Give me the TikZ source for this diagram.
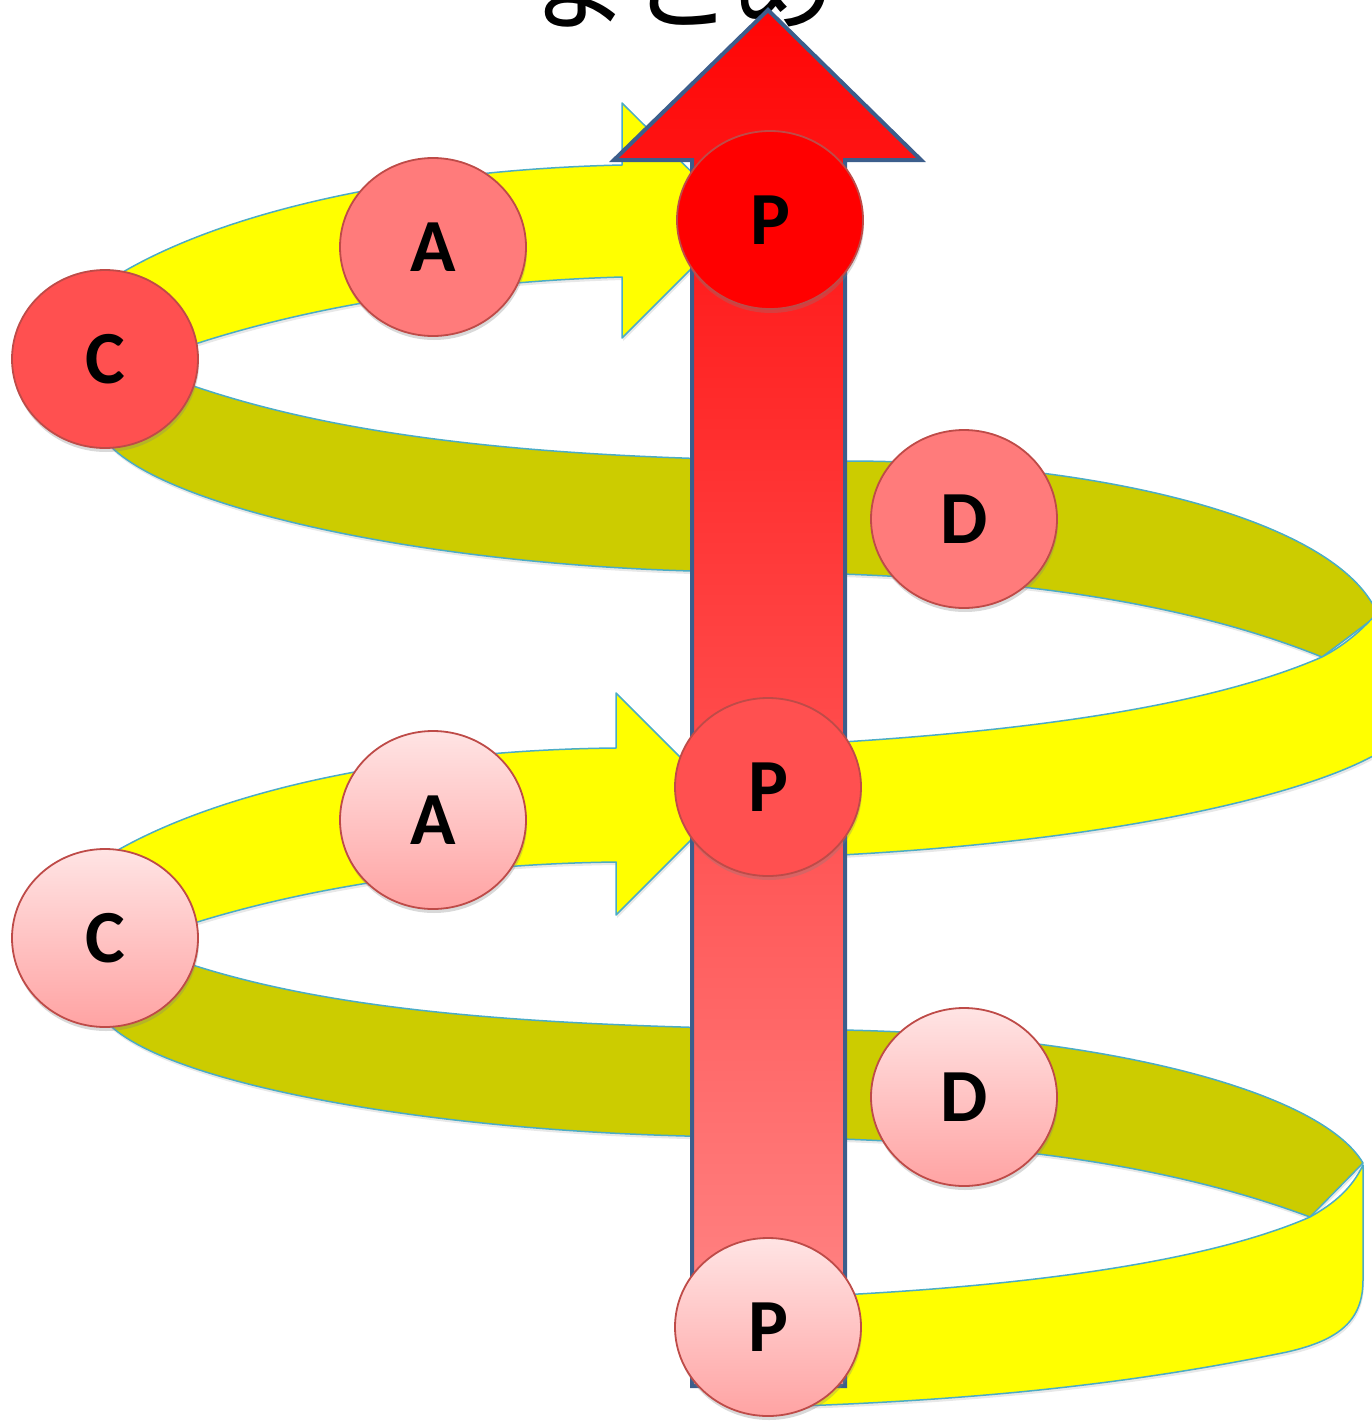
\documentclass[tikz,border=0pt]{standalone}
\usepackage{fontspec}
\newfontfamily\cjk{Noto Sans CJK JP}
\newfontfamily\labfont{Carlito}
\usetikzlibrary{shapes.geometric,shadows}
\definecolor{bandyellow}{RGB}{255,255,0}
\definecolor{bandolive}{RGB}{204,204,0}
\definecolor{bandedge}{RGB}{75,172,198}
\definecolor{arrowedge}{RGB}{60,94,140}
\definecolor{circedge}{RGB}{190,75,72}
\definecolor{hotred}{RGB}{255,0,0}
\definecolor{midred}{RGB}{255,80,80}
\definecolor{lightred}{RGB}{255,123,123}
\definecolor{pinktop}{RGB}{255,228,228}
\definecolor{pinkbot}{RGB}{255,163,163}
\definecolor{shafttop}{RGB}{255,5,5}
\definecolor{shaftbot}{RGB}{255,138,138}
\tikzset{
  band/.style={draw=bandedge, line width=1.5pt, line join=round,
    drop shadow={opacity=0.18, shadow xshift=1pt, shadow yshift=-3pt}},
  yband/.style={band, fill=bandyellow},
  oband/.style={band, fill=bandolive},
  bigarrow/.style={draw=arrowedge, line width=4pt, line join=miter,
    top color=shafttop, bottom color=shaftbot},
  ball/.style={ellipse, minimum width=186pt, minimum height=178pt, inner sep=0pt,
    draw=circedge, line width=1.8pt, text=black,
    font=\labfont\bfseries\fontsize{75}{75}\selectfont,
    drop shadow={opacity=0.3, shadow xshift=1pt, shadow yshift=-4pt}},
  ballhot/.style={ball, fill=hotred},
  ballmid/.style={ball, fill=midred},
  balllight/.style={ball, fill=lightred},
  ballgrad/.style={ball, top color=pinktop, bottom color=pinkbot},
  titlefont/.style={font=\cjk\fontsize{103}{103}\selectfont}
}
\begin{document}
\begin{tikzpicture}[x=1pt,y=-1pt]
\useasboundingbox (0,0) rectangle (1371,1424);

% title (cut off at the top edge, as in the source)
\node[titlefont, anchor=base, inner sep=0pt] (title) at (681,22) {まとめ};

% ---- back (olive) bands ----
\filldraw[oband] (150,370) .. controls (300,430) and (500,460) .. (845,461)
  .. controls (1100,461) and (1340,520) .. (1378,615)
  -- (1322,657)
  .. controls (1180,600) and (1000,575) .. (760,572)
  .. controls (450,572) and (160,510) .. (105,440)
  -- (100,425) -- cycle;

\filldraw[oband] (150,950) .. controls (300,1008) and (500,1027) .. (843,1030)
  .. controls (1100,1035) and (1320,1090) .. (1363,1163)
  -- (1310,1217)
  .. controls (1170,1165) and (1000,1140) .. (760,1137)
  .. controls (450,1137) and (160,1085) .. (105,1020)
  -- (100,1005) -- cycle;

% ---- front (yellow) lower bands ----
\filldraw[yband] (770,746) .. controls (1000,735) and (1200,710) .. (1322,657)
  .. controls (1345,645) and (1362,630) .. (1378,612)
  -- (1392,600) -- (1392,748) -- (1371,757)
  .. controls (1290,800) and (1080,848) .. (770,858) -- cycle;

\filldraw[yband] (770,1298) .. controls (1000,1290) and (1200,1265) .. (1310,1217)
  .. controls (1335,1203) and (1352,1188) .. (1363,1165)
  -- (1363,1280)
  .. controls (1363,1320) and (1340,1340) .. (1287,1352)
  .. controls (1150,1380) and (1000,1400) .. (770,1407) -- cycle;

% ---- yellow arrows (C -> A -> P) ----
\filldraw[yband] (95,290) .. controls (200,215) and (400,170) .. (622,165)
  -- (622,103) -- (740,220) -- (622,338) -- (622,277)
  .. controls (450,282) and (280,310) .. (150,360) -- cycle;

\filldraw[yband] (92,866) .. controls (200,793) and (400,750) .. (616,748)
  -- (616,693) -- (727,804) -- (616,915) -- (616,862)
  .. controls (450,864) and (280,890) .. (150,938) -- cycle;

% ---- big red arrow ----
\coordinate (sbl) at (692,1386);
\coordinate (sbr) at (845,1386);
\coordinate (stl) at (692,160);
\coordinate (str) at (845,160);
\coordinate (hl) at (614,160);
\coordinate (hr) at (921,160);
\coordinate (tip) at (768,10);
\path[bigarrow] (sbl) -- (stl) -- (hl) -- (tip) -- (hr) -- (str) -- (sbr) -- cycle;

% ---- circles ----
\node[ballmid]   (c1) at (105,359) {C};
\node[balllight] (a1) at (433,247) {A};
\node[ballhot]   (p1) at (770,220) {P};
\node[balllight] (d1) at (964,519) {D};
\node[ballmid]   (p2) at (768,787) {P};
\node[ballgrad]  (a2) at (433,820) {A};
\node[ballgrad]  (c2) at (105,938) {C};
\node[ballgrad]  (d2) at (964,1097) {D};
\node[ballgrad]  (p3) at (768,1327) {P};
\end{tikzpicture}
\end{document}
